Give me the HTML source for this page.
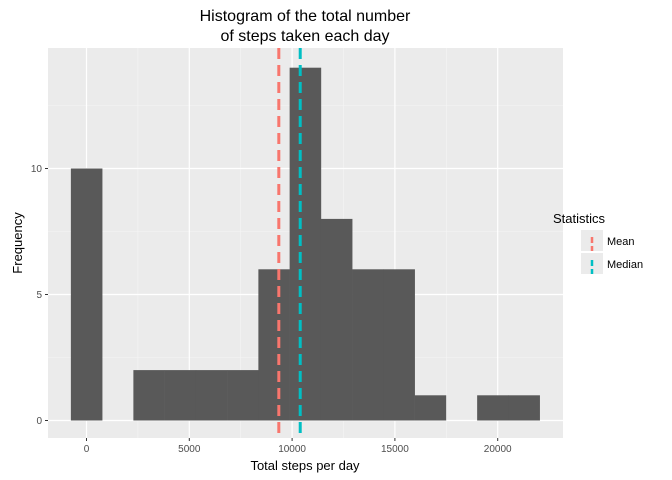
<!DOCTYPE html>
<html><head><meta charset="utf-8"><style>
body{margin:0;background:#fff;}
svg{display:block;font-family:"Liberation Sans",sans-serif;}
</style></head><body>
<svg id="c" width="672" height="480">
<rect x="48" y="48" width="515" height="390" fill="#ebebeb"/>
<g id="grid"></g><g id="bars"></g><g id="lines"></g><g id="axes"></g>
<text x="305" y="21" font-size="16" text-anchor="middle" fill="#000">Histogram of the total number</text>
<text x="305" y="41" font-size="16" text-anchor="middle" fill="#000">of steps taken each day</text>
<text x="305" y="470" font-size="13" text-anchor="middle">Total steps per day</text>
<text x="22" y="243" font-size="13" text-anchor="middle" transform="rotate(-90 22 243)">Frequency</text>
<g>
<text x="553" y="223" font-size="13">Statistics</text>
<rect x="581" y="230" width="22" height="21" fill="#ebebeb"/>
<line x1="592" y1="237" x2="592" y2="251" stroke="#f8766d" stroke-width="2.5" stroke-dasharray="6,3"/>
<text x="607" y="245" font-size="11">Mean</text>
<rect x="581" y="253" width="22" height="21" fill="#ebebeb"/>
<line x1="592" y1="260" x2="592" y2="274" stroke="#00bfc4" stroke-width="2.5" stroke-dasharray="6,3"/>
<text x="607" y="268" font-size="11">Median</text>
</g>
</svg>
<script>
const binCenters=[0,1520,3040,4560,6080,7600,9120,10640,12160,13680,15200,16720,18240,19760,21280];
const counts=[10,0,2,2,2,2,6,14,8,6,6,1,0,1,1];
const binWidth=1520;
const meanSteps=9354;
const medianSteps=10395;
const xTicks=[0,5000,10000,15000,20000];
const yTicks=[0,5,10];
const NS="http://www.w3.org/2000/svg";
const X=v=>86.5+v*0.02056;
const Y=v=>420.5-v*25.2;
function mk(tag,attrs,parent){const e=document.createElementNS(NS,tag);for(const k in attrs)e.setAttribute(k,attrs[k]);document.getElementById(parent).appendChild(e);return e;}
// minor grid
for(let i=0;i<xTicks.length-1;i++){const m=(xTicks[i]+xTicks[i+1])/2;const l=mk('line',{x1:X(m),x2:X(m),y1:48,y2:438,stroke:'#f5f5f5','stroke-width':0.6},'grid');

}
for(const m of [2.5,7.5,12.5]){const l=mk('line',{x1:48,x2:563,y1:Y(m),y2:Y(m),stroke:'#f5f5f5','stroke-width':0.6},'grid');

}
for(const t of xTicks){const l=mk('line',{x1:X(t),x2:X(t),y1:48,y2:438,stroke:'#fff','stroke-width':1.2},'grid');


const k=mk('line',{x1:X(t),x2:X(t),y1:438,y2:441,stroke:'#333'},'axes');


const tx=mk('text',{x:X(t),y:452,'font-size':10,'text-anchor':'middle',fill:'#4d4d4d'},'axes');tx.textContent=t;

}
for(const t of yTicks){const l=mk('line',{x1:48,x2:563,y1:Y(t),y2:Y(t),stroke:'#fff','stroke-width':1.2},'grid');


const k=mk('line',{x1:45,x2:48,y1:Y(t),y2:Y(t),stroke:'#333'},'axes');


const tx=mk('text',{x:42,y:Y(t)+3.5,'font-size':10,'text-anchor':'end',fill:'#4d4d4d'},'axes');tx.textContent=t;

}
binCenters.forEach((c,i)=>{if(!counts[i])return;const x0=X(c-binWidth/2),x1=X(c+binWidth/2);
const r=mk('rect',{x:x0,y:Y(counts[i]),width:x1-x0+0.3,height:Y(0)-Y(counts[i]),fill:'#595959'},'bars');

});
const ml=mk('line',{x1:X(meanSteps),x2:X(meanSteps),y1:48,y2:438,stroke:'#f8766d','stroke-width':3,'stroke-dasharray':'11,6'},'lines');


const dl=mk('line',{x1:X(medianSteps),x2:X(medianSteps),y1:48,y2:438,stroke:'#00bfc4','stroke-width':3,'stroke-dasharray':'11,6'},'lines');


</script>
</body></html>
